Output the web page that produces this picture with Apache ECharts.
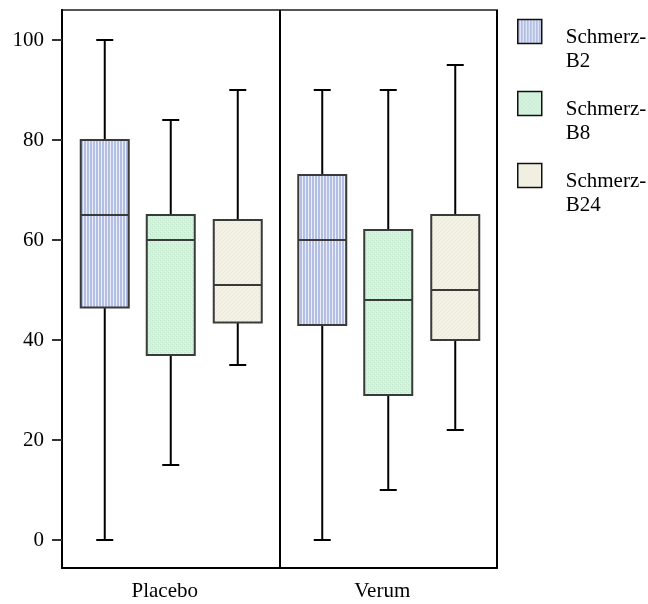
<!DOCTYPE html>
<html>
<head>
<meta charset="utf-8">
<script src="https://cdn.jsdelivr.net/npm/echarts@6/dist/echarts.min.js"></script>
<style>
  html, body { margin: 0; padding: 0; background: #fff; }
  #chart { width: 648px; height: 604px; }
</style>
</head>
<body>
<div id="chart"></div>
<script>
// groups on the x axis
const groups = ["Placebo", "Verum"];
const seriesNames = ["Schmerz-B2", "Schmerz-B8", "Schmerz-B24"];
const yTicks = [0, 20, 40, 60, 80, 100];

// [min, Q1, median, Q3, max] per group
const b2 = [
  [0, 46.5, 65, 80, 100],
  [0, 43, 60, 73, 90],
];
const b8 = [
  [15, 37, 60, 65, 84],
  [10, 29, 48, 62, 90],
];
const b24 = [
  [35, 43.5, 51, 64, 90],
  [22, 40, 50, 65, 95],
];

const FONT = "'Liberation Serif', 'Times New Roman', serif";

// small repeating fills to mimic the hatched boxes
function makePattern(w, h, draw) {
  const c = document.createElement("canvas");
  c.width = w;
  c.height = h;
  draw(c.getContext("2d"));
  return { image: c, repeat: "repeat" };
}
const fillB2 = makePattern(3, 3, (ctx) => {
  ctx.fillStyle = "#eceffa";
  ctx.fillRect(0, 0, 3, 3);
  ctx.fillStyle = "#b3bee3";
  ctx.fillRect(0, 0, 2, 3);
});
const fillB8 = makePattern(4, 4, (ctx) => {
  ctx.fillStyle = "#d3f1dc";
  ctx.fillRect(0, 0, 4, 4);
  ctx.fillStyle = "#bfe8ca";
  ctx.fillRect(0, 0, 1, 1);
  ctx.fillRect(2, 2, 1, 1);
  ctx.fillStyle = "#e2f6e8";
  ctx.fillRect(1, 3, 1, 1);
  ctx.fillRect(3, 1, 1, 1);
});
const fillB24 = makePattern(4, 4, (ctx) => {
  ctx.fillStyle = "#f4f2e5";
  ctx.fillRect(0, 0, 4, 4);
  ctx.fillStyle = "#ebe8d6";
  ctx.fillRect(0, 3, 1, 1);
  ctx.fillRect(1, 2, 1, 1);
  ctx.fillRect(2, 1, 1, 1);
  ctx.fillRect(3, 0, 1, 1);
});

const BOX_W = 48;
const CAP_W = 17;

function boxSeries(name, stats, fill, offset) {
  return {
    name: name,
    type: "custom",
    itemStyle: { color: "#cccccc" },
    data: stats.map((s, i) => [i].concat(s)),
    encode: { x: 0, y: [1, 2, 3, 4, 5] },
    renderItem: function (params, api) {
      const idx = api.value(0);
      const cx = api.coord([idx, 0])[0] + offset;
      const y = (k) => api.coord([idx, api.value(k)])[1];
      const yMin = y(1), yQ1 = y(2), yMed = y(3), yQ3 = y(4), yMax = y(5);
      const line = (x1, y1, x2, y2, color) => ({
        type: "line",
        shape: { x1: x1, y1: y1, x2: x2, y2: y2 },
        style: { stroke: color, lineWidth: 2 },
      });
      return {
        type: "group",
        children: [
          line(cx, yQ1, cx, yMin, "#000"),
          line(cx - CAP_W / 2, yMin, cx + CAP_W / 2, yMin, "#000"),
          line(cx, yQ3, cx, yMax, "#000"),
          line(cx - CAP_W / 2, yMax, cx + CAP_W / 2, yMax, "#000"),
          {
            type: "rect",
            shape: { x: cx - BOX_W / 2, y: yQ3, width: BOX_W, height: yQ1 - yQ3 },
            style: { fill: fill, stroke: "#3a3a3a", lineWidth: 2 },
          },
          line(cx - BOX_W / 2, yMed, cx + BOX_W / 2, yMed, "#3a3a3a"),
        ],
      };
    },
  };
}

const chart = echarts.init(document.getElementById("chart"));
chart.setOption({
  animation: false,
  backgroundColor: "#fff",
  grid: {
    left: 62,
    right: 151,
    top: 10,
    bottom: 36,
    show: true,
    borderColor: "#555",
    borderWidth: 2,
  },
  legend: {
    orient: "vertical",
    left: 517,
    top: 2.5,
    padding: 0,
    itemGap: 3,
    itemWidth: 24,
    itemHeight: 24,
    icon: "rect",
    selectedMode: false,
    // empty spacer line pushes the two-line name down next to the box
    formatter: (name) => {
      const parts = name.split("-");
      return "{s| }\n{t|" + parts[0] + "-}\n{t|" + parts[1] + "}";
    },
    textStyle: {
      fontFamily: FONT,
      fontSize: 21,
      color: "#000",
      padding: [0, 0, 0, 19],
      rich: {
        s: { fontSize: 10, lineHeight: 35 },
        t: { fontFamily: FONT, fontSize: 21, lineHeight: 24, color: "#000" },
      },
    },
    data: [
      { name: seriesNames[0], itemStyle: { color: fillB2, borderColor: "#111", borderWidth: 1.5 } },
      { name: seriesNames[1], itemStyle: { color: fillB8, borderColor: "#111", borderWidth: 1.5 } },
      { name: seriesNames[2], itemStyle: { color: fillB24, borderColor: "#111", borderWidth: 1.5 } },
    ],
  },
  xAxis: {
    type: "category",
    data: groups,
    axisTick: { show: false },
    axisLine: { onZero: false, lineStyle: { color: "#000", width: 2 } },
    axisLabel: {
      fontFamily: FONT,
      fontSize: 21,
      color: "#000",
      margin: 13,
      padding: [0, 12, 0, 0],
    },
    splitLine: { show: true, interval: 0, lineStyle: { color: "#000", width: 2 } },
  },
  yAxis: {
    type: "value",
    min: -5.6,
    max: 106,
    axisLine: { show: true, lineStyle: { color: "#000", width: 2 } },
    axisTick: {
      show: true,
      length: 10,
      customValues: yTicks,
      lineStyle: { color: "#333", width: 2 },
    },
    axisLabel: {
      fontFamily: FONT,
      fontSize: 21,
      color: "#000",
      margin: 18,
      customValues: yTicks,
    },
    splitLine: { show: false },
  },
  series: [
    boxSeries(seriesNames[0], b2, fillB2, -66),
    boxSeries(seriesNames[1], b8, fillB8, 0),
    boxSeries(seriesNames[2], b24, fillB24, 67),
  ],
});
</script>
</body>
</html>
